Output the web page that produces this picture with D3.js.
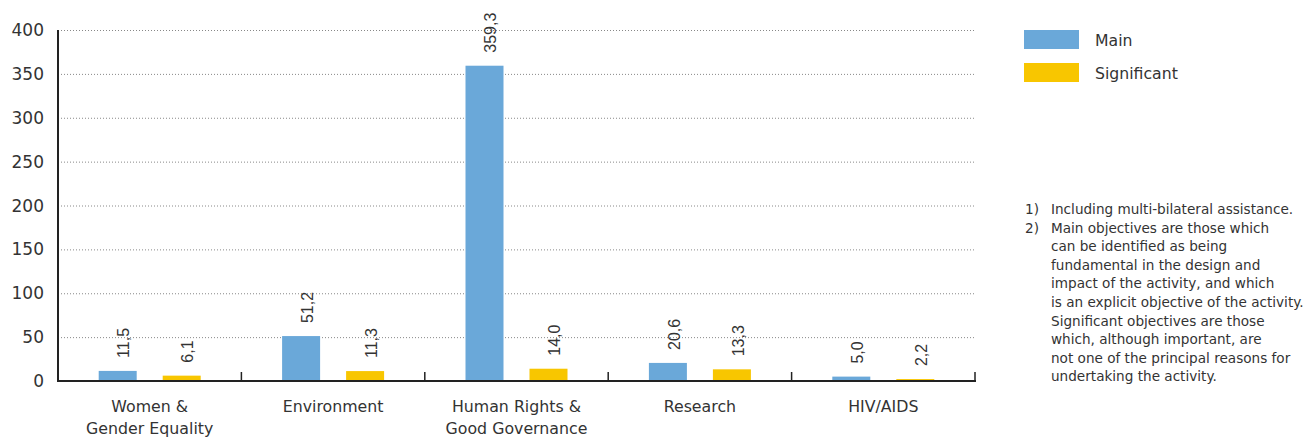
<!DOCTYPE html>
<html lang="en">
  <head>
    <meta charset="utf-8">
    <script src="https://d3js.org/d3.v7.min.js"></script>
    <style>
    body { margin: 0; background: #fff; }
    text { font-family: "Liberation Sans", Arial, sans-serif; fill: #333; }
    .wide { font-family: "DejaVu Sans", sans-serif; }
    </style>
  </head>
  <body>
    <div id="place"></div>
    <script type="text/javascript">
    // chart data
    var categories = [["Women &", "Gender Equality"], ["Environment"], ["Human Rights &", "Good Governance"], ["Research"], ["HIV/AIDS"]];
    var mainValues = [11.5, 51.2, 359.3, 20.6, 5.0];
    var significantValues = [6.1, 11.3, 14.0, 13.3, 2.2];
    var seriesNames = ["Main", "Significant"];
    var yTicks = [0, 50, 100, 150, 200, 250, 300, 350, 400];
    var notes = [
      ["1)", "Including multi-bilateral assistance."],
      ["2)", "Main objectives are those which"],
      ["", "can be identified as being"],
      ["", "fundamental in the design and"],
      ["", "impact of the activity, and which"],
      ["", "is an explicit objective of the activity."],
      ["", "Significant objectives are those"],
      ["", "which, although important, are"],
      ["", "not one of the principal reasons for"],
      ["", "undertaking the activity."]
    ];

    var colors = ["#6aa8d9", "#f8c600"];
    var width = 1308, height = 437;
    var svg = d3.select('#place').append('svg')
      .attr('width', width).attr('height', height);

    var x0 = 58, x1 = 975;
    var yScale = d3.scaleLinear().domain([0, 400]).range([381, 30]);
    var xScale = d3.scaleBand().domain(d3.range(categories.length)).range([x0, x1]);

    // gridlines
    svg.append('g').selectAll('line')
      .data(yTicks.slice(1))
      .enter().append('line')
      .attr('x1', x0).attr('x2', x1)
      .attr('y1', d => yScale(d) + 0.5).attr('y2', d => yScale(d) + 0.5)
      .attr('stroke', '#888')
      .attr('stroke-width', 1)
      .attr('stroke-dasharray', '1,2');

    // y tick labels
    svg.append('g').selectAll('text')
      .data(yTicks)
      .enter().append('text')
      .attr('class', 'wide')
      .attr('x', 44)
      .attr('y', d => yScale(d) + 6)
      .attr('text-anchor', 'end')
      .style('font-size', '17px')
      .text(d => d);

    // bars
    var offsets = [-32, 32];
    var barW = 38;
    [mainValues, significantValues].forEach(function(vals, s) {
      var g = svg.append('g');
      g.selectAll('rect')
        .data(vals)
        .enter().append('rect')
        .attr('x', (d, i) => xScale(i) + xScale.bandwidth() / 2 + offsets[s] - barW / 2)
        .attr('y', d => yScale(d))
        .attr('width', barW)
        .attr('height', d => yScale(0) - yScale(d))
        .attr('fill', colors[s]);
      g.selectAll('text')
        .data(vals)
        .enter().append('text')
        .attr('transform', (d, i) => 'translate(' + (xScale(i) + xScale.bandwidth() / 2 + offsets[s] + 6) + ',' + (yScale(d) - 13) + ') rotate(-90)')
        .attr('dy', '0.35em')
        .style('font-size', '16px')
        .text(d => d.toFixed(1).replace('.', ','));
    });

    // axes
    svg.append('line')
      .attr('x1', x0).attr('x2', x0)
      .attr('y1', 30).attr('y2', 382)
      .attr('stroke', '#222').attr('stroke-width', 2);
    svg.append('line')
      .attr('x1', x0 - 1).attr('x2', x1 + 1)
      .attr('y1', 381).attr('y2', 381)
      .attr('stroke', '#222').attr('stroke-width', 2);
    svg.append('g').selectAll('line')
      .data(d3.range(1, categories.length + 1))
      .enter().append('line')
      .attr('x1', i => i < categories.length ? xScale(i) : x1)
      .attr('x2', i => i < categories.length ? xScale(i) : x1)
      .attr('y1', 372).attr('y2', 381)
      .attr('stroke', '#222').attr('stroke-width', 1.5);

    // category labels
    var cat = svg.append('g').selectAll('text')
      .data(categories)
      .enter().append('text')
      .attr('class', 'wide')
      .attr('text-anchor', 'middle')
      .style('font-size', '15.8px');
    cat.selectAll('tspan')
      .data((d, i) => d.map(t => [t, i]))
      .enter().append('tspan')
      .attr('x', d => xScale(d[1]) + xScale.bandwidth() / 2)
      .attr('y', (d, j) => 412 + j * 22)
      .text(d => d[0]);

    // legend
    var legend = svg.append('g').selectAll('g')
      .data(seriesNames)
      .enter().append('g')
      .attr('transform', (d, i) => 'translate(1024,' + (30 + i * 33) + ')');
    legend.append('rect')
      .attr('width', 55).attr('height', 19)
      .attr('fill', (d, i) => colors[i]);
    legend.append('text')
      .attr('class', 'wide')
      .attr('x', 71).attr('y', 16)
      .style('font-size', '15.7px')
      .text(d => d);

    // footnotes
    var fn = svg.append('g').selectAll('g')
      .data(notes)
      .enter().append('g')
      .attr('transform', (d, i) => 'translate(0,' + (214 + i * 18.6) + ')');
    fn.append('text').attr('class', 'wide').attr('x', 1025).style('font-size', '13.6px').text(d => d[0]);
    fn.append('text').attr('class', 'wide').attr('x', 1051).style('font-size', '13.6px').text(d => d[1]);
    </script>
  </body>
</html>
